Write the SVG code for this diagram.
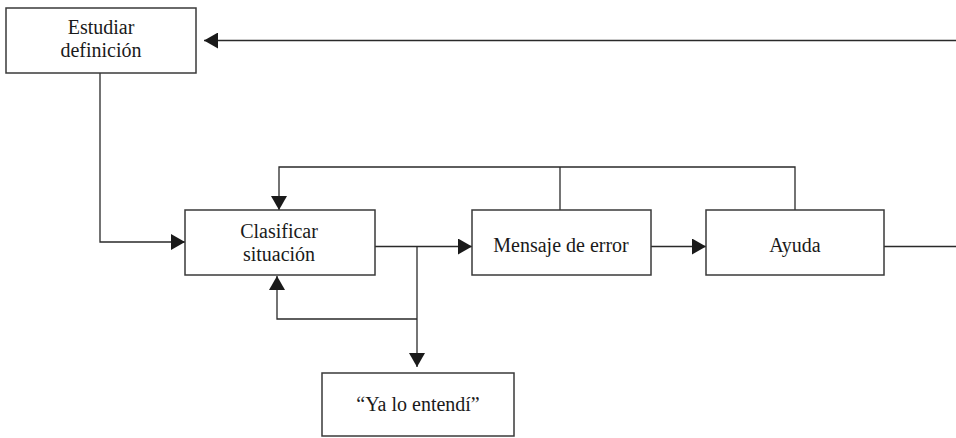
<svg xmlns="http://www.w3.org/2000/svg" width="956" height="438" viewBox="0 0 956 438">
  <style>
    .box { fill: #ffffff; stroke: #3a3a3a; stroke-width: 1.5; }
    .lbl { font-family: "Liberation Serif", "Times New Roman", serif; font-size: 20px; fill: #1a1a1a; text-anchor: middle; }
    .wire { fill: none; stroke: #2a2a2a; stroke-width: 1.3; }
  </style>
  <defs>
    <marker id="arrow" viewBox="0 0 14 16" refX="14" refY="8" markerWidth="14" markerHeight="16" markerUnits="userSpaceOnUse" orient="auto">
      <path d="M0,0 L14,8 L0,16 Z" fill="#1a1a1a"/>
    </marker>
  </defs>
  <rect width="956" height="438" fill="#ffffff"/>

  <g id="connectors">
    <!-- return from the right edge into Estudiar definición -->
    <path class="wire" d="M956,40.5 H204" marker-end="url(#arrow)"/>
    <!-- Estudiar definición down to Clasificar situación -->
    <path class="wire" d="M100,73 V242 H185" marker-end="url(#arrow)"/>
    <!-- Clasificar situación to Mensaje de error -->
    <path class="wire" d="M375,246.5 H472" marker-end="url(#arrow)"/>
    <!-- branch down to "Ya lo entendí" -->
    <path class="wire" d="M417,246.5 V367" marker-end="url(#arrow)"/>
    <!-- loop back up into Clasificar situación -->
    <path class="wire" d="M417,319 H277 V276" marker-end="url(#arrow)"/>
    <!-- Mensaje de error to Ayuda -->
    <path class="wire" d="M651,246.5 H706" marker-end="url(#arrow)"/>
    <!-- Ayuda exits right -->
    <path class="wire" d="M884,246.5 H956"/>
    <!-- feedback from Mensaje de error and Ayuda to Clasificar situación -->
    <path class="wire" d="M560,210 V167"/>
    <path class="wire" d="M795,210 V167 H279 V210" marker-end="url(#arrow)"/>
  </g>

  <g id="estudiar">
    <rect class="box" x="6" y="8" width="190" height="65"/>
    <text class="lbl" x="101" y="34">Estudiar</text>
    <text class="lbl" x="101" y="57">definición</text>
  </g>

  <g id="clasificar">
    <rect class="box" x="185" y="210" width="190" height="65"/>
    <text class="lbl" x="279" y="238">Clasificar</text>
    <text class="lbl" x="279" y="261">situación</text>
  </g>

  <g id="mensaje">
    <rect class="box" x="472" y="210" width="179" height="65"/>
    <text class="lbl" x="561" y="252">Mensaje de error</text>
  </g>

  <g id="ayuda">
    <rect class="box" x="706" y="210" width="178" height="65"/>
    <text class="lbl" x="795" y="252">Ayuda</text>
  </g>

  <g id="entendi">
    <rect class="box" x="322" y="373" width="192" height="63"/>
    <text class="lbl" x="418" y="411">“Ya lo entendí”</text>
  </g>
</svg>
